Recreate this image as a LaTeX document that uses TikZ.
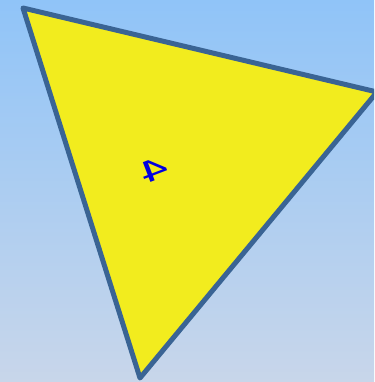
\documentclass[tikz,border=0pt]{standalone}
\usepackage{fontspec}
\newfontfamily\digitfont{DejaVu Sans}
\definecolor{bgtop}{HTML}{90C4F8}
\definecolor{bgbot}{HTML}{C8D6EA}
\definecolor{triyellow}{HTML}{F2EC1E}
\definecolor{triedge}{HTML}{3A6494}
\definecolor{digitblue}{HTML}{0000E0}
\tikzset{
  tri/.style={fill=triyellow, draw=triedge, line width=5pt, line join=round},
  digit/.style={text=digitblue, font=\digitfont\fontsize{29}{29}\selectfont, inner sep=0pt}
}
\begin{document}
\begin{tikzpicture}[x=1pt,y=-1pt]
  \useasboundingbox (0,0) rectangle (374,382);
  \clip (0,0) rectangle (374,382);
  \shade[top color=bgtop, bottom color=bgbot] (0,0) rectangle (374,382);
  \coordinate (A) at (23,8);
  \coordinate (B) at (377,92);
  \coordinate (C) at (140,378);
  \draw[tri] (A) -- (B) -- (C) -- cycle;
  \node[digit, rotate=21] (four) at (154,170) {\scalebox{1.6}[1]{\reflectbox{4}}};
\end{tikzpicture}
\end{document}
